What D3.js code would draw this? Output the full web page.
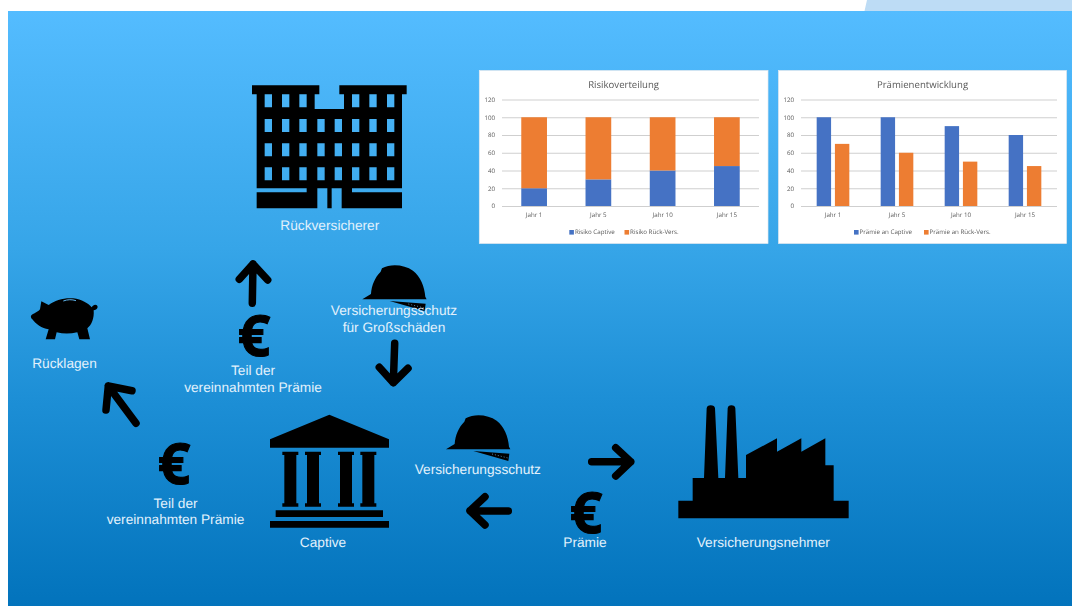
<!DOCTYPE html>
<html lang="de">
<head>
<meta charset="utf-8">
<title>Captive</title>
<script src="https://cdn.jsdelivr.net/npm/d3@7/dist/d3.min.js"></script>
<style>
html,body{margin:0;padding:0;background:#fff;overflow:hidden}
svg{display:block;text-rendering:geometricPrecision}
.lbl{font-family:"Liberation Sans",Arial,sans-serif;font-size:13.7px;fill:#e2f1fc;text-anchor:middle}
.euro{font-family:"Open Sans",sans-serif;font-weight:700;font-size:57px;fill:#000;stroke:#000;stroke-width:1.1;text-anchor:middle}
.ct{font-family:"Open Sans",sans-serif;fill:#595959}
</style>
</head>
<body>
<script>
// ---- chart data ----
const years = ["Jahr 1", "Jahr 5", "Jahr 10", "Jahr 15"];
const yTicks = [0, 20, 40, 60, 80, 100, 120];
const risikoCaptive = [20, 30, 40, 45];
const risikoRueck = [80, 70, 60, 55];
const praemieCaptive = [100, 100, 90, 80];
const praemieRueck = [70, 60, 50, 45];
const blue = "#4472C4", orange = "#ED7D31";

const W = 1072, H = 606;
const svg = d3.select("body").append("svg").attr("width", W).attr("height", H);

// background
const defs = svg.append("defs");
const grad = defs.append("linearGradient").attr("id", "bg").attr("x1", 0).attr("x2", 0).attr("y1", 0).attr("y2", 1);
grad.append("stop").attr("offset", "0%").attr("stop-color", "#54BCFF");
grad.append("stop").attr("offset", "40%").attr("stop-color", "#36A5E8");
grad.append("stop").attr("offset", "65%").attr("stop-color", "#1D8FD6");
grad.append("stop").attr("offset", "100%").attr("stop-color", "#0273BC");
defs.append("filter").attr("id", "soft").append("feGaussianBlur").attr("stdDeviation", 0.3);

svg.append("rect").attr("width", W).attr("height", H).attr("fill", "#fff");
svg.append("path").attr("d", "M864.5,11L867,0L1072,0L1072,11Z").attr("fill", "#BDDCF5");
svg.append("rect").attr("x", 8).attr("y", 11).attr("width", W - 8).attr("height", H - 11).attr("fill", "url(#bg)");

// ---- small charts ----
function panel(cfg) {
  const g = svg.append("g").attr("filter", "url(#soft)");
  g.append("rect").attr("x", cfg.px).attr("y", 70.5).attr("width", cfg.pw).attr("height", 173)
    .attr("fill", "#fff").attr("stroke", "#E3E9EE").attr("stroke-width", 0.7);
  g.append("text").attr("class", "ct").attr("x", cfg.px + cfg.pw / 2).attr("y", 87.5)
    .attr("text-anchor", "middle").attr("font-size", 9.6).text(cfg.title);
  const x = d3.scaleBand().domain(years).range([cfg.x0, cfg.x1]);
  const y = d3.scaleLinear().domain([0, 120]).range([206, 99.5]);
  const ya = g.append("g").attr("transform", `translate(${cfg.x0},0)`)
    .call(d3.axisLeft(y).tickValues(yTicks).tickSize(-(cfg.x1 - cfg.x0)).tickPadding(7));
  ya.select(".domain").remove();
  ya.selectAll("line").attr("stroke", "#CFCFCF").attr("stroke-width", 1);
  ya.selectAll("text").attr("class", "ct").attr("font-size", 6.2).attr("font-family", null);
  const xa = g.append("g").attr("transform", "translate(0,206)")
    .call(d3.axisBottom(x).tickSize(0).tickPadding(7));
  xa.select(".domain").remove();
  xa.selectAll("text").attr("class", "ct").attr("font-size", 6.2).attr("font-family", null);
  cfg.draw(g, x, y);
  const lg = g.append("g");
  cfg.legend.forEach(d => {
    lg.append("rect").attr("x", d.sx).attr("y", 230).attr("width", 4.6).attr("height", 4.6).attr("fill", d.c);
    lg.append("text").attr("class", "ct").attr("x", d.sx + 5.6).attr("y", 234).attr("font-size", 6.2).text(d.t);
  });
}

panel({
  px: 479.3, pw: 288.7, x0: 502, x1: 759, title: "Risikoverteilung",
  legend: [{ sx: 569.3, c: blue, t: "Risiko Captive" }, { sx: 624.5, c: orange, t: "Risiko Rück-Vers." }],
  draw(g, x, y) {
    const bw = x.bandwidth() * 0.4, off = x.bandwidth() * 0.3;
    g.selectAll(".b1").data(years).join("rect").attr("x", d => x(d) + off).attr("width", bw)
      .attr("y", (d, i) => y(risikoCaptive[i])).attr("height", (d, i) => y(0) - y(risikoCaptive[i])).attr("fill", blue);
    g.selectAll(".b2").data(years).join("rect").attr("x", d => x(d) + off).attr("width", bw)
      .attr("y", (d, i) => y(risikoCaptive[i] + risikoRueck[i])).attr("height", (d, i) => y(0) - y(risikoRueck[i])).attr("fill", orange);
  }
});

panel({
  px: 778.5, pw: 288, x0: 801, x1: 1057, title: "Prämienentwicklung",
  legend: [{ sx: 854, c: blue, t: "Prämie an Captive" }, { sx: 924, c: orange, t: "Prämie an Rück-Vers." }],
  draw(g, x, y) {
    const s = x.bandwidth();
    g.selectAll(".b1").data(years).join("rect").attr("x", d => x(d) + s * 0.245).attr("width", s * 0.225)
      .attr("y", (d, i) => y(praemieCaptive[i])).attr("height", (d, i) => y(0) - y(praemieCaptive[i])).attr("fill", blue);
    g.selectAll(".b2").data(years).join("rect").attr("x", d => x(d) + s * 0.53).attr("width", s * 0.225)
      .attr("y", (d, i) => y(praemieRueck[i])).attr("height", (d, i) => y(0) - y(praemieRueck[i])).attr("fill", orange);
  }
});

// ---- pictograms (local geometry at 3x, scaled down) ----
const R = (x0, y0, x1, y1) => `M${x0},${y0}H${x1}V${y1}H${x0}Z`;
function icon(ox, oy, d, rule) {
  return svg.append("path").attr("transform", `translate(${ox},${oy}) scale(${1 / 3})`)
    .attr("d", d).attr("fill", "#000").attr("fill-rule", rule || "nonzero");
}

// building
const winX = [104, 156, 208, 262, 314, 366, 418, 471];
const winRows = [147, 220, 292];
let bld = "M66,46H268V73H254V117H342V73H328V46H530V73H516V355H366V367H516V415H335V355H305V415H292V355H262V415H80V367H230V355H80V73H66Z";
winRows.forEach(r => winX.forEach(x => bld += R(x, r, x + 22, r + 39)));
[104, 156, 208, 366, 418, 471].forEach(x => bld += R(x, 73, x + 22, 112));
icon(230, 70, bld, "evenodd");

// piggy bank
icon(0, 250, "M93,197C100,190 112,188 120,178L124,154L146,165C165,150 195,142 220,145C245,148 265,160 275,172C280,162 292,162 293,171C292,178 285,180 281,181C283,205 275,225 262,235L270,268H238L232,247C210,252 190,252 170,247L165,268H137L146,238C125,235 108,222 97,208C93,204 92,200 93,197Z");
svg.append("path").attr("transform", "translate(0,250) scale(0.3333)")
  .attr("d", "M190,153C203,148 216,148 228,152").attr("fill", "none").attr("stroke", "#5FB4EA").attr("stroke-width", 3);

// helmets
const hat = "M138,178L164,162C166,135 176,112 193,95L197,85C225,70 265,75 290,92C312,108 325,140 327,170L331,178Z" +
            "M220,183L328,191L325,213Z";
const hatDots = "M276,192L324,204";
[[400, 390], [316.3, 240]].forEach(([ox, oy]) => {
  icon(ox, oy, hat);
  svg.append("path").attr("transform", `translate(${ox},${oy}) scale(${1 / 3})`).attr("d", hatDots)
    .attr("fill", "none").attr("stroke", "#7FC4EE").attr("stroke-width", 2).attr("stroke-dasharray", "3 6");
});

// bank
let bank = "M718,44L897,118V143H540V118Z" + R(557, 331, 879, 351) + R(540, 363, 897, 383);
[577, 645, 744, 811].forEach(x => {
  bank += R(x, 155, x + 48, 165) + R(x + 6, 165, x + 42, 310) + R(x, 310, x + 48, 320);
});
icon(90, 400, bank);

// factory
icon(400, 390, "M835,385V332H878V264H912L920,55Q921,46 932,46Q944,46 945,55L955,264H975L983,55Q984,46 994,46Q1005,46 1006,55L1015,264H1038V195L1131,145V185L1204,145V185L1276,145V226H1301V332H1346V385Z");

// arrows
const arrows = [
  [[252.3, 303.3], [253, 264], [239.3, 279.3], [267.7, 280]],
  [[394.7, 343.3], [393.3, 382.7], [379.3, 367.3], [408, 368.3]],
  [[136, 423.3], [108.3, 386], [106, 410], [132, 390.7]],
  [[591.7, 461.7], [630.7, 461.7], [615.7, 447.7], [615.7, 476]],
  [[508.3, 511], [470, 510.7], [485, 496.7], [485, 525]]
];
const line = d3.line();
arrows.forEach(([a, tip, l, r]) => {
  svg.append("path").attr("d", line([a, tip]) + line([l, tip, r])).attr("fill", "none")
    .attr("stroke", "#000").attr("stroke-width", 7.5).attr("stroke-linecap", "round").attr("stroke-linejoin", "round");
});

// euro signs
[[254, 356], [174, 484], [586, 533]].forEach(([x, y]) => {
  svg.append("text").attr("class", "euro").attr("x", x).attr("y", y).text("€");
});

// labels
const labels = [
  ["Rückversicherer", 329.8, 229.5],
  ["Versicherungsschutz", 394, 315],
  ["für Großschäden", 394, 332],
  ["Teil der", 253, 375],
  ["vereinnahmten Prämie", 253, 391.7],
  ["Rücklagen", 64.5, 368],
  ["Teil der", 175.5, 507.7],
  ["vereinnahmten Prämie", 175.5, 524],
  ["Captive", 323, 547],
  ["Versicherungsschutz", 477.8, 473.7],
  ["Prämie", 585, 546.7],
  ["Versicherungsnehmer", 763.3, 547]
];
labels.forEach(([t, x, y]) => {
  svg.append("text").attr("class", "lbl").attr("x", x).attr("y", y).text(t);
});
</script>
</body>
</html>
